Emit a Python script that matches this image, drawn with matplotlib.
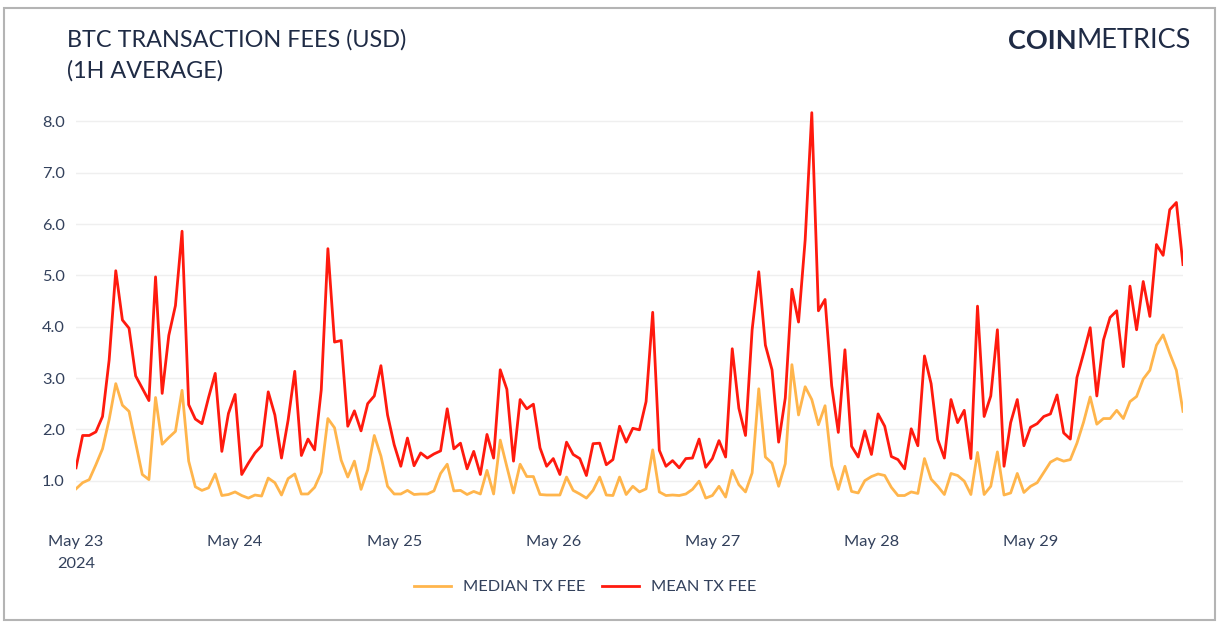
import numpy as np
import pandas as pd
import matplotlib
matplotlib.use("Agg")
import matplotlib.pyplot as plt
import matplotlib.dates as mdates
from matplotlib.patches import Rectangle

plt.rcParams['font.family'] = ['Lato', 'DejaVu Sans']

# hourly BTC fees (USD), May 23 00:00 -> May 29 23:00
mean_fee = [
    1.25, 1.88, 1.88, 1.95, 2.25, 3.35, 5.09, 4.13, 3.97, 3.04, 2.80, 2.56,
    4.97, 2.70, 3.83, 4.41, 5.86, 2.48, 2.20, 2.11, 2.62, 3.09, 1.57, 2.31,
    2.68, 1.12, 1.34, 1.54, 1.68, 2.73, 2.28, 1.44, 2.18, 3.13, 1.49, 1.81,
    1.60, 2.77, 5.52, 3.70, 3.73, 2.06, 2.36, 1.97, 2.50, 2.65, 3.24, 2.28,
    1.70, 1.28, 1.83, 1.29, 1.54, 1.44, 1.52, 1.58, 2.40, 1.62, 1.73, 1.23,
    1.57, 1.12, 1.90, 1.44, 3.16, 2.78, 1.38, 2.58, 2.40, 2.49, 1.64, 1.28,
    1.43, 1.12, 1.75, 1.51, 1.43, 1.10, 1.72, 1.73, 1.31, 1.41, 2.06, 1.75,
    2.02, 1.99, 2.54, 4.28, 1.59, 1.28, 1.39, 1.25, 1.43, 1.44, 1.81, 1.26,
    1.43, 1.78, 1.46, 3.57, 2.41, 1.88, 3.94, 5.07, 3.64, 3.16, 1.75, 2.61,
    4.73, 4.09, 5.69, 8.17, 4.31, 4.53, 2.85, 1.94, 3.55, 1.67, 1.46, 1.97,
    1.51, 2.30, 2.06, 1.47, 1.41, 1.23, 2.01, 1.68, 3.43, 2.89, 1.80, 1.44,
    2.58, 2.13, 2.37, 1.43, 4.40, 2.25, 2.65, 3.94, 1.28, 2.13, 2.58, 1.68,
    2.04, 2.11, 2.25, 2.30, 2.67, 1.93, 1.81, 3.01, 3.48, 3.98, 2.65, 3.74,
    4.18, 4.31, 3.22, 4.79, 3.94, 4.88, 4.20, 5.60, 5.39, 6.28, 6.42, 5.21,
]
median_fee = [
    0.84, 0.96, 1.02, 1.31, 1.62, 2.19, 2.89, 2.47, 2.35, 1.73, 1.12, 1.02,
    2.62, 1.71, 1.84, 1.96, 2.76, 1.38, 0.88, 0.81, 0.86, 1.13, 0.71, 0.73,
    0.78, 0.71, 0.66, 0.72, 0.70, 1.05, 0.96, 0.72, 1.04, 1.13, 0.74, 0.74,
    0.87, 1.16, 2.21, 2.03, 1.40, 1.07, 1.38, 0.83, 1.21, 1.88, 1.48, 0.89,
    0.74, 0.74, 0.81, 0.73, 0.74, 0.74, 0.80, 1.14, 1.32, 0.80, 0.81, 0.73,
    0.79, 0.74, 1.20, 0.74, 1.79, 1.27, 0.76, 1.32, 1.08, 1.08, 0.73, 0.72,
    0.72, 0.72, 1.07, 0.81, 0.74, 0.66, 0.81, 1.07, 0.72, 0.71, 1.07, 0.73,
    0.89, 0.78, 0.84, 1.60, 0.78, 0.71, 0.72, 0.71, 0.74, 0.83, 0.99, 0.66,
    0.71, 0.89, 0.68, 1.20, 0.92, 0.78, 1.15, 2.79, 1.46, 1.34, 0.89, 1.33,
    3.26, 2.28, 2.83, 2.58, 2.09, 2.46, 1.29, 0.83, 1.28, 0.79, 0.76, 1.00,
    1.08, 1.13, 1.10, 0.87, 0.71, 0.71, 0.78, 0.75, 1.43, 1.03, 0.89, 0.73,
    1.14, 1.10, 0.99, 0.73, 1.55, 0.73, 0.89, 1.56, 0.72, 0.76, 1.14, 0.77,
    0.89, 0.96, 1.16, 1.36, 1.43, 1.38, 1.41, 1.73, 2.14, 2.63, 2.10, 2.21,
    2.21, 2.37, 2.21, 2.54, 2.64, 2.98, 3.15, 3.64, 3.84, 3.48, 3.15, 2.35,
]
y_ticks = [1.0, 2.0, 3.0, 4.0, 5.0, 6.0, 7.0, 8.0]
day_labels = ["May 23\n2024", "May 24", "May 25", "May 26", "May 27", "May 28", "May 29"]

times = pd.date_range("2024-05-23 00:00", periods=len(mean_fee), freq="h")
days = pd.date_range("2024-05-23", periods=len(day_labels), freq="D")

TEXT = "#33415c"
NAVY = "#1f2b45"
ORANGE = "#ffb54c"
RED = "#ff1a0e"

fig = plt.figure(figsize=(12.19, 6.24), dpi=100)
fig.patches.append(Rectangle((0.003, 0.006), 0.994, 0.981, transform=fig.transFigure,
                             fill=False, edgecolor="#b4b4b4", linewidth=1.5))

ax = fig.add_axes([76 / 1219, 1 - 514 / 624, 1107 / 1219, 408 / 624])
ax.plot(times, median_fee, color=ORANGE, lw=2.0, solid_joinstyle="round", label="MEDIAN TX FEE")
ax.plot(times, mean_fee, color=RED, lw=2.0, solid_joinstyle="round", label="MEAN TX FEE")

ax.set_xlim(times[0], times[-1])
ax.set_ylim(0.35, 8.3)
ax.set_yticks(y_ticks)
ax.set_yticklabels([f"{v:.1f}" for v in y_ticks])
ax.set_xticks(days)
ax.set_xticklabels(day_labels, linespacing=1.75)
ax.grid(axis="y", color="#efefef", lw=1.0)
ax.set_axisbelow(True)
for s in ax.spines.values():
    s.set_visible(False)
ax.tick_params(axis="both", length=0, labelsize=11.8, labelcolor=TEXT)
ax.tick_params(axis="y", pad=8)
ax.tick_params(axis="x", pad=15)

fig.text(67 / 1219, 1 - 55 / 624, "BTC TRANSACTION FEES (USD)\n(1H AVERAGE)", ha="left", va="center",
         fontsize=16.8, color=NAVY, linespacing=1.55)
t1 = fig.text(1008 / 1219, 1 - 41 / 624, "COIN", ha="left", va="center",
              fontsize=19.5, fontweight="bold", color=NAVY)
fig.canvas.draw()
bb = t1.get_window_extent()
fig.text(bb.x1 / 1219, 1 - 41 / 624, "METRICS", ha="left", va="center",
         fontsize=19.5, fontweight="normal", color=NAVY)

fig.legend(loc="center", bbox_to_anchor=(585 / 1219, 1 - 587 / 624), ncol=2, frameon=False,
           fontsize=11.8, labelcolor=TEXT, handlelength=2.3, handletextpad=0.7, columnspacing=1.0)

fig.savefig("out.png", dpi=100)
